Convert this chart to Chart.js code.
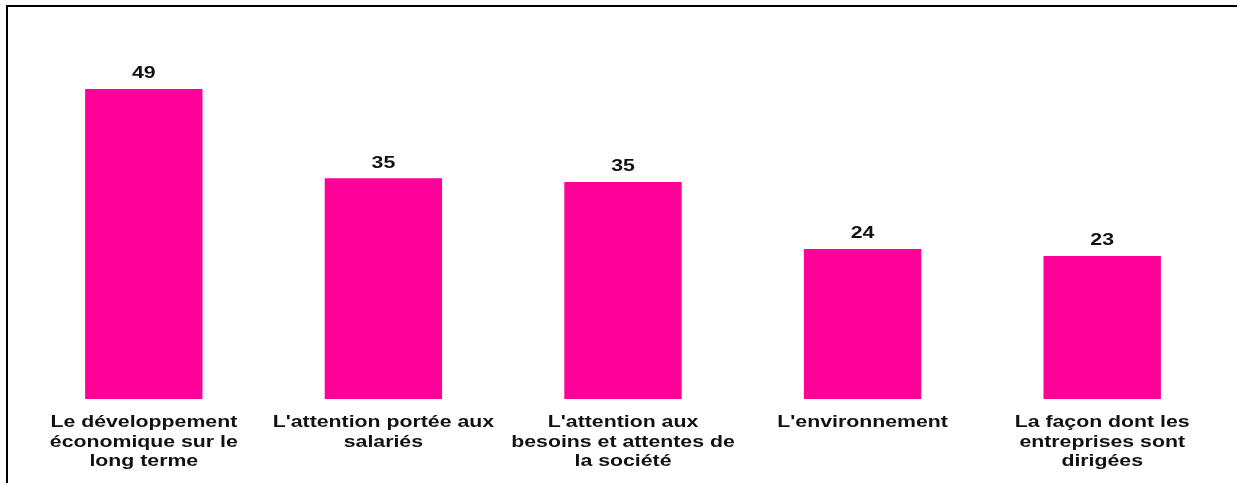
<!DOCTYPE html>
<html>
<head>
<meta charset="utf-8">
<script src="https://cdn.jsdelivr.net/npm/chart.js@4/dist/chart.umd.min.js"></script>
<style>
  html, body { margin: 0; padding: 0; background: #fff; }
  #wrap { position: relative; width: 1237px; height: 483px; overflow: hidden; }
  #frame { position: absolute; left: 6px; top: 5px; width: 1300px; height: 600px;
           border-top: 2px solid #000; border-left: 2px solid #000; box-sizing: border-box; }
  canvas { position: absolute; left: 0; top: 0; }
</style>
</head>
<body>
<div id="wrap">
  <div id="frame"></div>
  <canvas id="c" width="1237" height="483"></canvas>
</div>
<script>
const categories = [
  ["Le développement", "économique sur le", "long terme"],
  ["L'attention portée aux", "salariés"],
  ["L'attention aux", "besoins et attentes de", "la société"],
  ["L'environnement"],
  ["La façon dont les", "entreprises sont", "dirigées"]
];
const values = [49, 34.9, 34.3, 23.7, 22.6];
const valueLabels = ["49", "35", "35", "24", "23"];
const yMax = 55;

const BAR_COLOR = '#FF0099';
const FONT = 'bold 16px "Liberation Sans", Arial, sans-serif';
const STRETCH = 1.33;

function stretchedText(ctx, text, x, y) {
  ctx.save();
  ctx.translate(x, y);
  ctx.scale(STRETCH, 1);
  ctx.fillText(text, 0, 0);
  ctx.restore();
}

const labelPlugin = {
  id: 'labels',
  afterDatasetsDraw(chart) {
    const ctx = chart.ctx;
    const meta = chart.getDatasetMeta(0);
    const xScale = chart.scales.x;
    ctx.save();
    ctx.font = FONT;
    ctx.fillStyle = '#111';
    ctx.textAlign = 'center';
    ctx.textBaseline = 'middle';
    meta.data.forEach((bar, i) => {
      stretchedText(ctx, valueLabels[i], bar.x, bar.y - 15);
    });
    const baseY = chart.chartArea.bottom + 24;
    categories.forEach((lines, i) => {
      const x = xScale.getPixelForValue(i);
      lines.forEach((line, j) => {
        stretchedText(ctx, line, x, baseY + j * 19.5);
      });
    });
    ctx.restore();
  }
};

new Chart(document.getElementById('c'), {
  type: 'bar',
  data: {
    labels: categories.map(l => l.join(' ')),
    datasets: [{
      data: values,
      backgroundColor: BAR_COLOR,
      borderWidth: 0,
      barPercentage: 0.49,
      categoryPercentage: 1.0
    }]
  },
  options: {
    responsive: false,
    animation: false,
    layout: { padding: { left: 24, right: 15, top: 51, bottom: 84 } },
    plugins: { legend: { display: false }, tooltip: { enabled: false } },
    scales: {
      x: { display: false, grid: { display: false } },
      y: { display: false, min: 0, max: yMax, grid: { display: false } }
    }
  },
  plugins: [labelPlugin]
});
</script>
</body>
</html>
